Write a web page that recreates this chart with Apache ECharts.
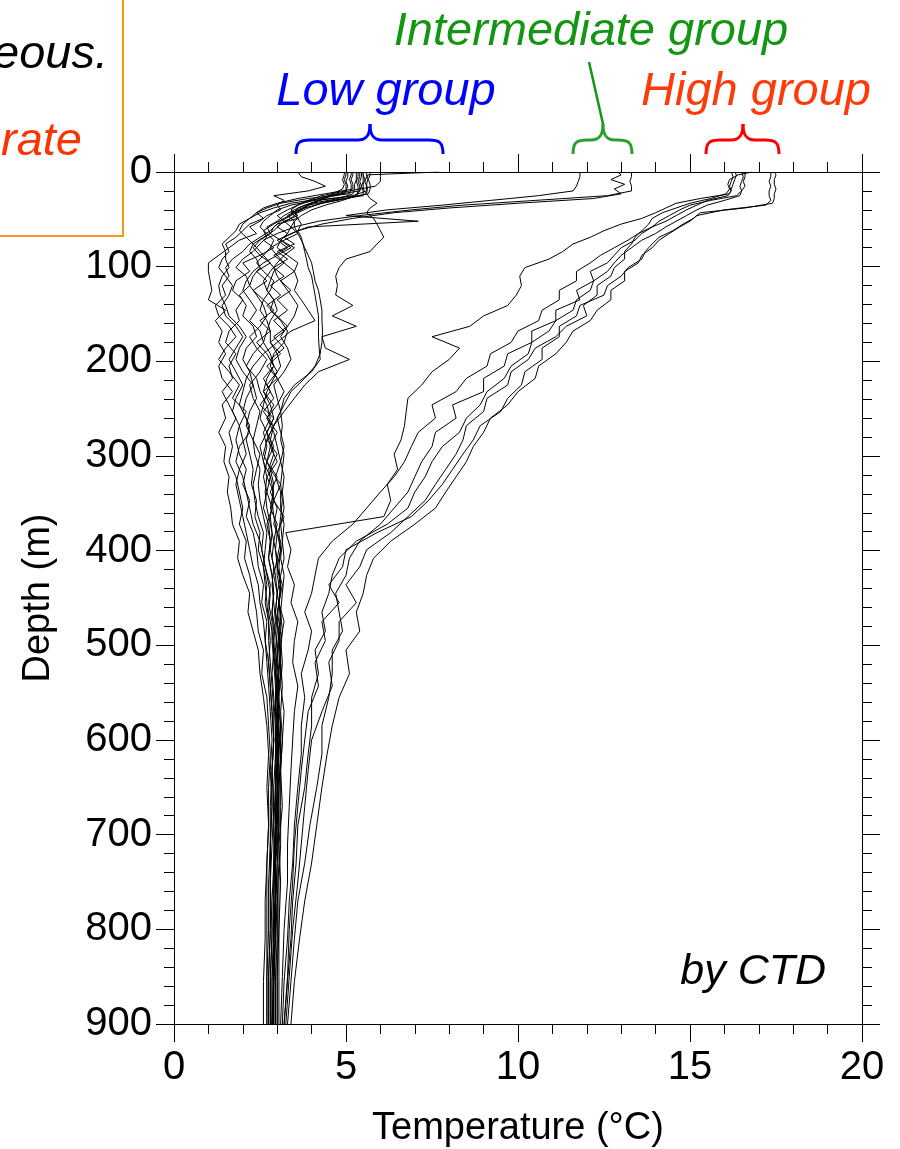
<!DOCTYPE html>
<html>
<head>
<meta charset="utf-8">
<title>Temperature profiles by CTD</title>
<script src="https://cdn.jsdelivr.net/npm/echarts@6/dist/echarts.min.js"></script>
<style>
  html, body { margin: 0; padding: 0; background: #fff; }
  #grafico { width: 900px; height: 1149px; }
</style>
</head>
<body>
<div id="grafico"></div>
<script>
// depth levels (m), two sets so the profiles do not all bend at the same depths
const depthsA = [0, 5, 10, 15, 20, 25, 30, 35,
  40, 46, 52, 58, 65, 72, 80, 88,
  96, 105, 115, 125, 135, 146, 157, 168,
  180, 192, 205, 218, 232, 246, 260, 275,
  290, 306, 322, 338, 355, 372, 390, 408,
  426, 445, 465, 485, 505, 530, 555, 585,
  615, 650, 690, 730, 770, 810, 855, 900];
const depthsB = [0, 3, 8, 13, 18, 23, 28, 33,
  38, 43, 49, 55, 62, 69, 76, 84,
  92, 101, 110, 120, 130, 141, 152, 163,
  174, 186, 198, 211, 225, 239, 253, 268,
  283, 298, 314, 330, 347, 364, 381, 399,
  417, 436, 455, 475, 495, 518, 543, 570,
  600, 632, 670, 710, 750, 800, 850, 900];

// temperatures (degC)
// high group
const high1 = [16.3, 16.35, 16.3, 16.25, 16.2, 16.15, 15.3, 14.6,
  14.3, 14.0, 13.6, 13.0, 12.5, 12.1, 11.6, 11.3,
  10.9, 10.2, 10.05, 10.1, 9.95, 9.7, 9.0, 8.6,
  7.5, 8.3, 8.0, 7.5, 7.2, 6.8, 6.75, 6.7,
  6.6, 6.4, 6.5, 6.2, 6.3, 6.1, 3.25, 3.4,
  3.3, 3.5, 3.4, 3.6, 3.5, 3.45, 3.6, 3.5,
  3.45, 3.4, 3.35, 3.3, 3.3, 3.2, 3.15, 3.1];
const high2 = [16.5, 16.55, 16.5, 16.45, 16.5, 16.35, 15.6, 15.0,
  14.7, 14.4, 14.1, 13.9, 13.6, 13.4, 13.0, 12.8,
  12.6, 12.1, 12.2, 11.7, 11.8, 11.1, 11.1, 10.4,
  10.4, 9.7, 9.6, 9.0, 9.0, 8.1, 8.2, 7.6,
  7.5, 7.2, 7.0, 6.8, 6.4, 6.0, 5.4, 5.1,
  5.0, 4.7, 4.8, 4.9, 4.6, 4.6, 4.5, 4.3,
  4.3, 4.15, 3.95, 3.8, 3.6, 3.5, 3.4, 3.3];
const high3 = [16.2, 16.25, 16.2, 16.15, 16.2, 16.1, 15.5, 15.2,
  14.9, 14.6, 14.3, 13.9, 13.5, 13.2, 12.8, 12.4,
  12.1, 11.7, 11.7, 11.2, 11.2, 10.7, 10.6, 10.0,
  9.8, 9.2, 9.1, 8.5, 8.2, 7.5, 7.6, 7.1,
  6.9, 6.7, 6.4, 6.0, 5.6, 5.2, 4.6, 4.2,
  4.1, 4.0, 3.8, 4.0, 3.9, 3.7, 3.8, 3.7,
  3.7, 3.6, 3.5, 3.45, 3.35, 3.3, 3.2, 3.15];
const high4 = [16.6, 16.6, 16.55, 16.6, 16.5, 16.45, 16.0, 15.5,
  15.2, 14.9, 14.6, 14.3, 14.0, 13.6, 13.3, 13.0,
  12.8, 12.6, 12.2, 12.1, 11.7, 11.6, 11.1, 10.9,
  10.4, 10.3, 9.8, 9.6, 9.1, 8.9, 8.5, 8.3,
  7.8, 7.5, 7.3, 7.0, 6.8, 6.2, 5.3, 4.8,
  4.6, 4.5, 4.3, 4.4, 4.1, 4.2, 4.0, 4.0,
  3.9, 3.8, 3.6, 3.55, 3.45, 3.4, 3.3, 3.2];
const high5 = [16.8, 16.4, 16.15, 16.1, 16.15, 16.05, 15.6, 15.0,
  14.6, 14.2, 13.9, 13.8, 13.6, 13.4, 13.3, 13.1,
  13.1, 12.8, 12.7, 12.3, 12.3, 11.9, 12.0, 11.4,
  11.1, 10.5, 10.3, 9.8, 9.7, 9.1, 9.0, 8.5,
  8.4, 8.2, 7.9, 7.6, 7.3, 6.8, 6.3, 5.6,
  5.4, 5.0, 5.3, 4.8, 4.8, 4.5, 4.6, 4.3,
  4.0, 3.9, 3.8, 3.7, 3.6, 3.45, 3.35, 3.25];
const high6 = [17.35, 17.35, 17.3, 17.35, 17.3, 17.3, 17.35, 17.2,
  16.0, 15.2, 15.0, 14.7, 14.4, 14.1, 13.9, 13.6,
  13.5, 13.1, 13.1, 12.7, 12.7, 12.3, 12.1, 11.6,
  11.4, 11.1, 10.6, 10.5, 10.0, 9.7, 9.2, 9.0,
  8.7, 8.5, 8.2, 7.9, 7.6, 7.0, 6.3, 5.8,
  5.6, 5.5, 5.3, 5.4, 5.0, 5.1, 4.8, 4.6,
  4.45, 4.3, 4.15, 4.0, 3.8, 3.65, 3.5, 3.4];
const high7 = [17.45, 17.5, 17.45, 17.45, 17.5, 17.45, 17.45, 17.4,
  16.6, 15.3, 15.1, 14.8, 14.5, 14.1, 13.9, 13.7,
  13.6, 13.2, 13.0, 12.6, 12.5, 11.8, 11.7, 11.2,
  11.2, 10.7, 10.7, 10.2, 10.1, 9.7, 9.5, 8.9,
  8.7, 8.4, 8.1, 7.8, 7.4, 6.9, 5.9, 5.0,
  4.9, 4.5, 4.8, 4.3, 4.4, 4.1, 4.2, 3.9,
  3.8, 3.7, 3.6, 3.5, 3.45, 3.35, 3.3, 3.2];

// intermediate group
const mid1 = [13.3, 13.3, 13.25, 13.3, 13.3, 12.6, 10.5, 8.4,
  6.9, 5.4, 4.2, 3.5, 3.0, 2.6, 2.9, 2.5,
  2.8, 2.4, 2.7, 2.3, 2.6, 2.9, 2.5, 2.8,
  2.4, 2.7, 2.9, 2.6, 2.8, 2.5, 2.9, 2.7,
  2.9, 2.7, 3.0, 2.8, 3.0, 2.9, 3.1, 3.0,
  3.0, 3.1, 3.0, 3.1, 3.05, 3.1, 3.0, 3.1,
  3.05, 3.0, 3.05, 2.95, 3.0, 2.95, 2.9, 2.9];
const mid2 = [12.9, 13.0, 12.7, 13.1, 12.8, 13.0, 12.2, 10.0,
  8.0, 6.4, 5.2, 4.3, 3.6, 3.2, 3.5, 3.0,
  3.3, 2.9, 3.2, 2.8, 3.1, 2.7, 3.0, 3.3,
  2.9, 3.2, 2.8, 3.0, 2.7, 2.9, 2.6, 2.9,
  2.7, 3.0, 2.8, 3.1, 2.9, 3.2, 3.0, 3.1,
  3.0, 3.15, 3.05, 3.2, 3.1, 3.15, 3.1, 3.2,
  3.15, 3.1, 3.15, 3.05, 3.1, 3.05, 3.0, 3.0];
const mid3 = [11.8, 11.8, 11.75, 11.7, 11.6, 10.6, 9.2, 7.8,
  6.2, 5.0, 7.1, 3.9, 3.4, 3.0, 3.3, 2.9,
  3.2, 3.5, 3.1, 3.4, 3.0, 3.3, 2.9, 3.2,
  2.8, 3.1, 2.7, 3.0, 2.6, 2.9, 2.7, 3.0,
  2.8, 3.0, 2.7, 2.9, 2.8, 3.0, 2.9, 3.0,
  2.9, 3.0, 2.95, 3.05, 3.0, 3.05, 2.95, 3.0,
  2.95, 3.0, 2.95, 2.9, 2.95, 2.9, 2.85, 2.85];

// low group
const low1 = [3.6, 3.7, 4.1, 4.4, 3.9, 2.9, 3.2, 3.0,
  3.1, 2.7, 2.5, 2.2, 2.4, 1.9, 1.6, 1.3,
  1.0, 1.0, 1.05, 1.1, 1.0, 1.5, 1.2, 1.4,
  1.3, 1.5, 1.3, 1.4, 1.7, 1.4, 1.5, 1.3,
  1.5, 1.45, 1.6, 1.55, 1.65, 1.7, 1.9, 1.85,
  2.0, 2.2, 2.15, 2.3, 2.45, 2.5, 2.6, 2.7,
  2.75, 2.7, 2.75, 2.7, 2.65, 2.65, 2.6, 2.6];
const low2 = [4.95, 4.95, 4.9, 4.95, 4.9, 4.6, 4.4, 4.0,
  3.8, 3.4, 3.6, 3.0, 2.8, 2.5, 2.2, 2.0,
  1.7, 1.5, 1.6, 1.4, 1.5, 1.2, 1.3, 1.6,
  1.8, 1.5, 1.3, 1.6, 1.9, 1.7, 2.1, 1.9,
  1.8, 1.9, 2.1, 2.0, 2.2, 2.1, 2.3, 2.4,
  2.45, 2.6, 2.55, 2.7, 2.65, 2.75, 2.8, 2.85,
  2.9, 2.85, 2.9, 2.85, 2.8, 2.8, 2.75, 2.75];
const low3 = [5.05, 5.05, 5.0, 5.05, 5.0, 4.3, 3.9, 3.6,
  3.4, 3.6, 3.2, 3.0, 3.3, 3.1, 3.4, 3.0,
  2.6, 2.3, 2.1, 2.0, 2.2, 2.4, 2.2, 2.5,
  2.6, 2.3, 2.1, 2.4, 2.5, 2.7, 2.8, 2.6,
  2.7, 2.6, 2.8, 2.7, 2.85, 2.7, 2.8, 2.75,
  2.85, 2.9, 2.85, 2.95, 3.0, 2.95, 3.0, 3.0,
  3.0, 2.95, 2.9, 2.95, 2.95, 2.9, 2.9, 2.9];
const low4 = [5.3, 5.3, 5.3, 5.25, 5.25, 5.2, 4.8, 4.0,
  3.6, 3.5, 3.6, 3.7, 3.6, 3.7, 3.75, 3.8,
  3.85, 3.9, 4.0, 4.05, 4.1, 4.15, 4.2, 4.2,
  4.2, 4.22, 4.25, 4.0, 3.5, 3.2, 3.1, 3.15,
  3.1, 3.2, 3.15, 3.1, 3.15, 3.1, 3.05, 3.1,
  3.05, 3.1, 3.05, 3.0, 3.05, 3.0, 3.05, 3.0,
  3.05, 3.0, 3.0, 2.95, 2.95, 2.9, 2.9, 2.85];
const low5 = [5.4, 5.4, 5.35, 5.4, 5.4, 5.3, 4.9, 4.4,
  4.0, 3.7, 3.5, 3.5, 3.6, 3.7, 3.8, 3.9,
  4.0, 4.05, 4.1, 4.2, 4.25, 4.3, 4.3, 4.32,
  4.3, 4.25, 4.1, 3.8, 3.4, 3.2, 3.0, 3.1,
  3.2, 3.1, 3.2, 3.15, 3.2, 3.1, 3.15, 3.1,
  3.2, 3.15, 3.1, 3.15, 3.1, 3.1, 3.05, 3.1,
  3.1, 3.05, 3.05, 3.0, 3.0, 3.0, 2.95, 2.95];
const low6 = [5.5, 5.5, 5.55, 5.5, 5.5, 5.6, 5.7, 5.9,
  5.7, 5.6, 5.8, 5.9, 6.0, 6.1, 5.9, 5.7,
  5.0, 4.8, 4.7, 4.75, 4.7, 5.2, 4.6, 5.3,
  4.3, 4.4, 5.1, 4.2, 3.8, 3.5, 3.2, 2.9,
  2.8, 2.9, 2.75, 2.85, 2.9, 2.8, 2.85, 2.8,
  2.9, 2.85, 2.9, 2.95, 2.9, 2.95, 3.0, 2.95,
  3.0, 3.0, 3.0, 2.95, 2.9, 2.9, 2.95, 2.95];
const low7 = [5.6, 5.6, 5.55, 5.6, 5.6, 5.2, 4.2, 3.8,
  3.5, 3.2, 3.0, 2.7, 2.8, 2.5, 2.3, 2.5,
  2.0, 2.2, 1.8, 1.7, 2.0, 1.8, 1.9, 1.6,
  1.5, 1.8, 1.6, 1.7, 1.4, 1.6, 1.8, 1.6,
  1.7, 1.6, 1.8, 1.9, 2.0, 1.9, 2.1, 2.05,
  2.2, 2.3, 2.4, 2.45, 2.6, 2.55, 2.7, 2.75,
  2.8, 2.75, 2.75, 2.7, 2.7, 2.7, 2.7, 2.7];
const low8 = [7.7, 5.63, 5.63, 5.6, 5.62, 5.6, 5.0, 4.3,
  3.8, 3.5, 3.2, 2.9, 2.6, 2.7, 2.5, 2.3,
  2.0, 1.8, 2.1, 2.2, 1.9, 2.1, 2.0, 2.3,
  2.4, 2.1, 2.0, 2.2, 2.3, 2.1, 2.0, 2.2,
  2.1, 2.2, 2.3, 2.25, 2.4, 2.35, 2.5, 2.45,
  2.6, 2.7, 2.65, 2.75, 2.75, 2.8, 2.85, 2.9,
  2.9, 2.85, 2.8, 2.8, 2.75, 2.75, 2.7, 2.7];
const low9 = [6.0, 6.0, 6.0, 5.85, 5.1, 4.5, 4.2, 3.9,
  3.6, 3.3, 3.5, 3.4, 3.6, 3.2, 2.8, 3.0,
  3.2, 2.9, 2.8, 2.7, 2.9, 3.0, 2.8, 2.7,
  2.6, 2.8, 2.9, 2.7, 2.6, 2.8, 2.9, 2.7,
  2.5, 2.6, 2.7, 2.65, 2.7, 2.8, 2.9, 2.85,
  2.95, 3.0, 2.95, 3.0, 2.95, 3.0, 3.05, 3.0,
  3.05, 3.0, 3.0, 2.95, 2.95, 2.9, 2.9, 2.85];
const low10 = [5.2, 5.2, 5.15, 5.2, 5.2, 4.4, 3.6, 3.0,
  2.6, 2.4, 2.6, 2.2, 2.0, 1.8, 1.5, 1.6,
  1.4, 1.3, 1.5, 1.7, 1.6, 1.4, 1.5, 1.8,
  2.0, 1.8, 1.6, 1.8, 2.0, 1.8, 1.7, 1.9,
  2.0, 2.1, 1.9, 1.8, 1.9, 2.0, 2.1, 2.2,
  2.3, 2.45, 2.5, 2.6, 2.65, 2.7, 2.75, 2.8,
  2.85, 2.8, 2.85, 2.8, 2.8, 2.85, 2.8, 2.8];
const low11 = [5.35, 5.35, 5.3, 5.35, 5.35, 5.3, 4.1, 3.4,
  3.0, 2.8, 2.6, 2.5, 2.7, 2.9, 2.8, 2.6,
  2.4, 2.6, 2.9, 2.8, 2.6, 2.5, 2.7, 2.8,
  2.8, 3.0, 3.1, 2.9, 2.7, 2.6, 2.5, 2.7,
  2.8, 2.7, 2.6, 2.7, 2.6, 2.75, 2.8, 2.75,
  2.85, 2.9, 2.85, 2.9, 2.9, 2.95, 3.0, 3.05,
  3.1, 3.05, 3.05, 3.05, 3.0, 3.0, 3.0, 3.0];
const low12 = [5.15, 5.15, 5.1, 5.15, 5.15, 5.1, 3.9, 3.1,
  2.7, 2.4, 2.2, 2.0, 1.9, 2.1, 2.3, 2.5,
  2.7, 2.9, 3.0, 3.2, 3.4, 3.6, 3.5, 3.3,
  3.1, 3.3, 3.4, 3.2, 2.9, 3.0, 3.1, 2.9,
  2.7, 2.6, 2.8, 2.9, 2.85, 2.9, 3.0, 2.95,
  3.0, 3.1, 3.05, 3.1, 3.05, 3.1, 3.15, 3.1,
  3.15, 3.1, 3.1, 3.1, 3.05, 3.05, 3.05, 3.05];
const low13 = [5.45, 5.45, 5.4, 5.45, 5.4, 4.5, 4.0, 3.6,
  3.3, 3.0, 3.2, 3.4, 3.3, 3.1, 3.0, 3.3,
  3.6, 3.5, 3.6, 3.5, 3.7, 3.9, 4.1, 3.4,
  3.0, 2.6, 2.3, 2.1, 2.0, 1.9, 2.1, 2.2,
  1.9, 1.8, 2.0, 2.1, 2.2, 2.3, 2.5, 2.6,
  2.7, 2.8, 2.75, 2.85, 2.9, 2.85, 2.9, 2.95,
  2.95, 2.9, 2.9, 2.9, 2.85, 2.85, 2.8, 2.8];
const low14 = [5.0, 5.0, 4.95, 5.0, 5.0, 4.95, 4.3, 3.4,
  2.9, 2.5, 2.2, 1.9, 1.8, 1.6, 1.4, 1.5,
  1.5, 1.6, 1.4, 1.3, 1.35, 1.5, 1.6, 1.9,
  2.1, 1.9, 1.8, 2.0, 2.3, 2.4, 2.2, 2.1,
  2.3, 2.5, 2.4, 2.3, 2.35, 2.45, 2.6, 2.55,
  2.65, 2.8, 2.75, 2.85, 2.85, 2.9, 2.95, 2.95,
  3.0, 2.95, 2.95, 2.95, 2.9, 2.9, 2.85, 2.85];
const low15 = [5.5, 5.5, 5.5, 5.45, 5.5, 5.5, 4.6, 3.9,
  3.7, 3.4, 3.1, 2.9, 2.8, 3.1, 3.5, 3.2,
  3.0, 2.8, 2.6, 2.7, 2.9, 2.8, 3.1, 3.3,
  3.2, 2.9, 2.8, 3.0, 3.2, 3.0, 2.7, 2.9,
  3.0, 3.1, 2.95, 3.1, 3.1, 3.2, 3.15, 3.2,
  3.1, 3.0, 3.1, 3.05, 3.1, 3.05, 3.0, 3.05,
  3.0, 3.05, 3.0, 3.0, 2.95, 2.95, 2.9, 2.9];
const low16 = [5.7, 5.7, 5.65, 5.7, 5.7, 5.65, 5.0, 4.3,
  3.9, 3.6, 3.4, 3.1, 2.9, 2.6, 2.3, 2.2,
  2.4, 2.5, 2.3, 2.2, 2.4, 2.6, 2.7, 2.5,
  2.2, 2.4, 2.7, 2.5, 2.2, 2.3, 2.5, 2.4,
  2.3, 2.35, 2.5, 2.45, 2.5, 2.6, 2.7, 2.65,
  2.6, 2.65, 2.7, 2.75, 2.8, 2.75, 2.8, 2.85,
  2.9, 2.85, 2.85, 2.8, 2.8, 2.8, 2.75, 2.75];

// which depth levels each profile uses
const perfiles = [
  [high1, depthsB], [high2, depthsA], [high3, depthsA], [high4, depthsA],
  [high5, depthsB], [high6, depthsA], [high7, depthsB],
  [mid1, depthsA], [mid2, depthsB], [mid3, depthsA],
  [low1, depthsA], [low2, depthsB], [low3, depthsA], [low4, depthsB],
  [low5, depthsA], [low6, depthsB], [low7, depthsA], [low8, depthsB],
  [low9, depthsA], [low10, depthsB], [low11, depthsA], [low12, depthsB],
  [low13, depthsA], [low14, depthsB], [low15, depthsA], [low16, depthsB]
];

const fuente = '"Liberation Sans", Arial, Helvetica, sans-serif';

const grafico = document.getElementById('grafico');
const myChart = echarts.init(grafico, null, { renderer: 'canvas' });

function ejeX(pos, conEtiqueta) {
  return {
    type: 'value', position: pos, min: 0, max: 20, interval: 5,
    axisLine: { onZero: false, lineStyle: { color: '#000', width: 1 } },
    axisTick: { show: true, inside: false, length: 18, lineStyle: { color: '#000', width: 1 } },
    minorTick: { show: true, splitNumber: 5, length: 10, lineStyle: { color: '#000', width: 1 } },
    splitLine: { show: false },
    axisLabel: { show: conEtiqueta, fontSize: 40, color: '#000', margin: 24, fontFamily: fuente },
    name: conEtiqueta ? 'Temperature (\u00B0C)' : '',
    nameLocation: 'middle', nameGap: 86,
    nameTextStyle: { fontSize: 38, color: '#000', fontFamily: fuente }
  };
}

function ejeY(pos, conEtiqueta) {
  return {
    type: 'value', position: pos, inverse: true, min: 0, max: 900, interval: 100,
    axisLine: { onZero: false, lineStyle: { color: '#000', width: 1 } },
    axisTick: { show: true, inside: false, length: 18, lineStyle: { color: '#000', width: 1 } },
    minorTick: { show: true, splitNumber: 5, length: 10, lineStyle: { color: '#000', width: 1 } },
    splitLine: { show: false },
    axisLabel: { show: conEtiqueta, fontSize: 40, color: '#000', margin: 22, fontFamily: fuente },
    name: conEtiqueta ? 'Depth (m)' : '',
    nameLocation: 'middle', nameGap: 116, nameRotate: 90,
    nameTextStyle: { fontSize: 38, color: '#000', fontFamily: fuente }
  };
}

function texto(x, y, str, color, size, align) {
  return {
    type: 'text', x: x, y: y, silent: true,
    style: {
      text: str, fill: color, fontSize: size, fontStyle: 'italic', fontFamily: fuente,
      align: align, verticalAlign: 'middle', textAlign: align, textVerticalAlign: 'middle'
    }
  };
}

// curly brace above the top axis: x1 left end, xm peak, x2 right end
function llave(x1, xm, x2, color) {
  const yb = 154, ya = 140, yp = 124;
  const trazo = { fill: 'none', stroke: color, lineWidth: 3 };
  const curva = (ax, ay, bx, by, c1x, c1y, c2x, c2y) => ({
    type: 'bezierCurve', silent: true,
    shape: { x1: ax, y1: ay, x2: bx, y2: by, cpx1: c1x, cpy1: c1y, cpx2: c2x, cpy2: c2y },
    style: trazo
  });
  const recta = (ax, bx) => ({
    type: 'line', silent: true, shape: { x1: ax, y1: ya, x2: bx, y2: ya }, style: trazo
  });
  return [
    curva(x1, yb, x1 + 14, ya, x1, ya + 2, x1 + 4, ya),
    recta(x1 + 14, xm - 12),
    curva(xm - 12, ya, xm, yp, xm - 4, ya, xm, ya - 4),
    curva(xm, yp, xm + 12, ya, xm, ya - 4, xm + 4, ya),
    recta(xm + 12, x2 - 14),
    curva(x2 - 14, ya, x2, yb, x2 - 4, ya, x2, ya + 2)
  ];
}

var options = {
  animation: false,
  backgroundColor: '#fff',
  grid: { left: 174, right: 38, top: 172, bottom: 125, containLabel: false, outerBoundsMode: 'none' },
  xAxis: [ejeX('bottom', true), ejeX('top', false)],
  yAxis: [ejeY('left', true), ejeY('right', false)],
  series: perfiles.map(function (p) {
    return {
      type: 'line', xAxisIndex: 0, yAxisIndex: 0,
      data: p[0].map(function (t, i) { return [t, p[1][i]]; }),
      showSymbol: false, symbol: 'none', silent: true,
      lineStyle: { color: '#000', width: 1 }
    };
  }),
  graphic: [
    { type: 'rect', silent: true, shape: { x: -20, y: -20, width: 143, height: 256 },
      style: { fill: 'none', stroke: '#f7971e', lineWidth: 2 } },
    texto(108, 55, 'eous.', '#000', 47, 'right'),
    texto(82, 142, 'rate', '#ff3300', 47, 'right'),
    texto(386, 92, 'Low group', '#0000ff', 47, 'center'),
    texto(591, 32, 'Intermediate group', '#149614', 47, 'center'),
    texto(756, 92, 'High group', '#ff3a0a', 47, 'center'),
    texto(826, 972, 'by CTD', '#000', 43, 'right'),
    { type: 'line', silent: true, shape: { x1: 603, y1: 124, x2: 589, y2: 62 },
      style: { stroke: '#149614', lineWidth: 2.5 } }
  ].concat(
    llave(296, 370, 443, '#0000ff'),
    llave(573, 603, 632, '#2ca02c'),
    llave(706, 743, 779, '#ff0000')
  )
};
myChart.setOption(options);
</script>
</body>
</html>
